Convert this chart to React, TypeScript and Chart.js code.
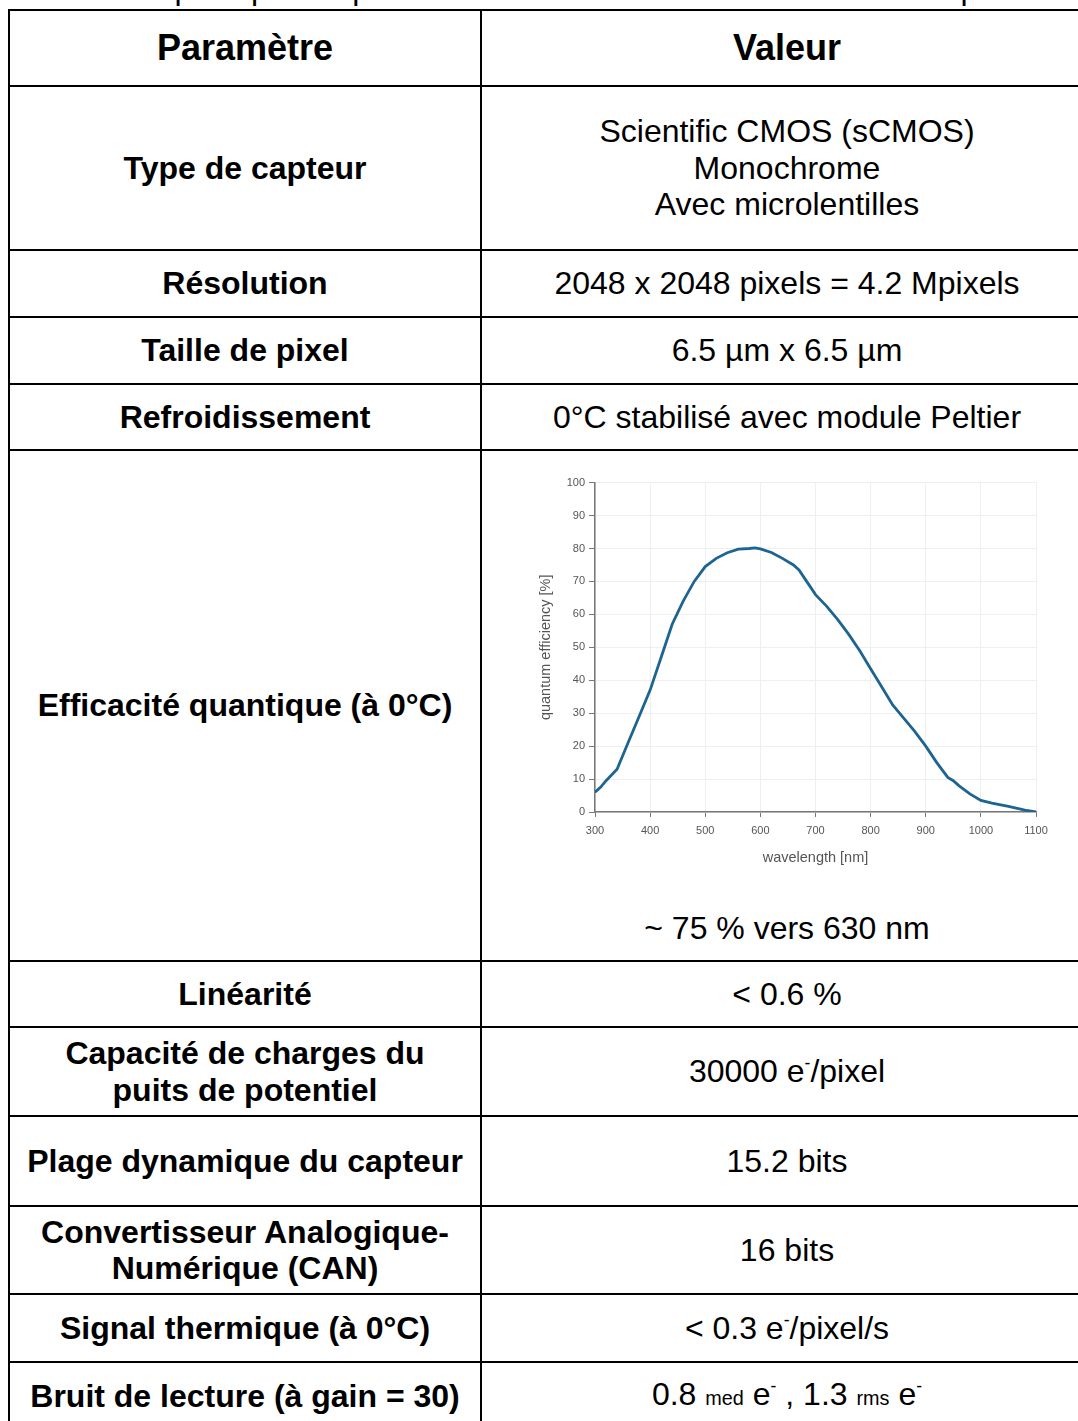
import React, { useEffect, useRef } from "react";
import { Chart, registerables } from "chart.js";

Chart.register(...registerables);

// ---- chart data ----
const wavelengths = [300, 310, 320, 340, 360, 380, 400, 420, 440, 460, 480, 500, 520, 540, 560, 580, 590, 600, 620, 640, 660, 670, 680, 700, 720, 740, 760, 780, 800, 820, 840, 860, 880, 900, 920, 940, 950, 960, 980, 1000, 1020, 1050, 1080, 1100];
const efficiency = [6, 7.5, 9.5, 13, 21, 29, 37, 47, 57, 64, 70, 74.5, 77, 78.7, 79.8, 80, 80.2, 79.9, 78.8, 77, 75, 73.5, 71, 66, 62.5, 58.5, 54, 49, 43.5, 38, 32.5, 28.5, 24.5, 20, 15, 10.5, 9.5, 8, 5.5, 3.5, 2.7, 1.7, 0.6, 0];
const xAxisTitle = "wavelength [nm]";
const yAxisTitle = "quantum efficiency [%]";

// ---- table content ----
const headerLeft = "Paramètre";
const headerRight = "Valeur";
const paramLabels: React.ReactNode[] = [
  "Type de capteur",
  "Résolution",
  "Taille de pixel",
  "Refroidissement",
  "Efficacité quantique (à 0°C)",
  "Linéarité",
  <>Capacité de charges du<br />puits de potentiel</>,
  "Plage dynamique du capteur",
  <>Convertisseur Analogique-<br />Numérique (CAN)</>,
  "Signal thermique (à 0°C)",
  "Bruit de lecture (à gain = 30)",
];
const supStyle: React.CSSProperties = { fontSize: "0.55em", verticalAlign: "0.75em", lineHeight: 0 };
const smallStyle: React.CSSProperties = { fontSize: "0.62em" };
const valueLabels: React.ReactNode[] = [
  <>Scientific CMOS (sCMOS)<br />Monochrome<br />Avec microlentilles</>,
  "2048 x 2048 pixels = 4.2 Mpixels",
  "6.5 µm x 6.5 µm",
  "0°C stabilisé avec module Peltier",
  null,
  "< 0.6 %",
  <>30000 e<span style={supStyle}>-</span>/pixel</>,
  "15.2 bits",
  "16 bits",
  <>&lt; 0.3 e<span style={supStyle}>-</span>/pixel/s</>,
  <>0.8 <span style={smallStyle}>med</span> e<span style={supStyle}>-</span> , 1.3 <span style={smallStyle}>rms</span> e<span style={supStyle}>-</span></>,
];
const qeNote = "~ 75 % vers 630 nm";
const captionText = "Tableau 1 : principales spécifications de la caméra sCMOS utilisée pour l'imagerie";

// ---- layout geometry ----
const rowLines = [10, 86, 250, 317, 384, 450, 961, 1027, 1116, 1206, 1294, 1362, 1430];
const colLines = [9, 481, 1093];
const FONT = "'Liberation Sans', Arial, Helvetica, sans-serif";

function QEChart() {
  const ref = useRef<HTMLCanvasElement>(null);
  useEffect(() => {
    if (!ref.current) return;
    const chart = new Chart(ref.current, {
      type: "line",
      data: {
        datasets: [
          {
            data: wavelengths.map((w, i) => ({ x: w, y: efficiency[i] })),
            borderColor: "#1d6590",
            borderWidth: 2.8,
            pointRadius: 0,
            tension: 0,
            fill: false,
          },
        ],
      },
      options: {
        animation: false,
        responsive: false,
        devicePixelRatio: 1,
        layout: { padding: { top: 10, right: 24, left: 0, bottom: 0 } },
        plugins: { legend: { display: false }, tooltip: { enabled: false } },
        scales: {
          x: {
            type: "linear",
            min: 300,
            max: 1100,
            ticks: {
              stepSize: 100,
              color: "#555",
              font: { family: FONT, size: 11 },
              padding: 7,
              maxRotation: 0,
              callback: (v: any) => String(v),
            },
            grid: { color: "#efefef", tickColor: "#777", tickLength: 5 },
            border: { color: "#777", width: 1.5 },
            title: { display: true, text: xAxisTitle, color: "#555", font: { family: FONT, size: 14.5 }, padding: { top: 0, bottom: 5 } },
            afterFit: (s: any) => { s.height = 60; },
          },
          y: {
            min: 0,
            max: 100,
            ticks: { stepSize: 10, color: "#555", font: { family: FONT, size: 11 }, padding: 4, callback: (v: any) => String(v) },
            grid: { color: "#efefef", tickColor: "#777", tickLength: 6 },
            border: { color: "#777", width: 1.5 },
            title: { display: true, text: yAxisTitle, color: "#555", font: { family: FONT, size: 14.5 }, padding: { top: 7, bottom: 0 } },
            afterFit: (s: any) => { s.width = 65; },
          },
        },
      },
    } as any);
    return () => chart.destroy();
  }, []);
  return (
    <canvas
      ref={ref}
      width={530}
      height={400}
      style={{ position: "absolute", left: 530, top: 472, width: 530, height: 400 }}
    />
  );
}

function Cell({ row, col, bold, size, children }: { row: number; col: number; bold: boolean; size: number; children: React.ReactNode }) {
  const top = rowLines[row];
  const bottom = rowLines[row + 1];
  const left = colLines[col];
  const right = colLines[col + 1];
  return (
    <div
      style={{
        position: "absolute",
        left,
        top,
        width: right - left,
        height: bottom - top,
        display: "flex",
        alignItems: "center",
        justifyContent: "center",
        textAlign: "center",
        fontWeight: bold ? "bold" : "normal",
        fontSize: size,
        lineHeight: "36.5px",
      }}
    >
      <div>{children}</div>
    </div>
  );
}

export default function App() {
  const lines: React.ReactNode[] = [];
  rowLines.forEach((y, i) => {
    lines.push(
      <div key={"h" + i} style={{ position: "absolute", left: colLines[0] - 1, top: y - 1, width: colLines[2] - colLines[0] + 2, height: 2, background: "#000" }} />
    );
  });
  colLines.forEach((x, i) => {
    lines.push(
      <div key={"v" + i} style={{ position: "absolute", left: x - 1, top: rowLines[0] - 1, width: 2, height: rowLines[rowLines.length - 1] - rowLines[0] + 2, background: "#000" }} />
    );
  });

  return (
    <div
      style={{
        position: "absolute",
        left: 0,
        top: 0,
        width: 1078,
        height: 1421,
        overflow: "hidden",
        background: "#fff",
        fontFamily: FONT,
        color: "#000",
      }}
    >
      <div
        style={{
          position: "absolute",
          left: colLines[0],
          width: colLines[2] - colLines[0],
          top: -28,
          fontSize: 32,
          lineHeight: "32px",
          textAlign: "center",
          whiteSpace: "nowrap",
        }}
      >
        {captionText}
      </div>
      <Cell row={0} col={0} bold size={36}>{headerLeft}</Cell>
      <Cell row={0} col={1} bold size={36}>{headerRight}</Cell>
      {paramLabels.map((p, i) => (
        <Cell key={"p" + i} row={i + 1} col={0} bold size={32}>{p}</Cell>
      ))}
      {valueLabels.map((v, i) =>
        v === null ? null : (
          <Cell key={"v" + i} row={i + 1} col={1} bold={false} size={32}>{v}</Cell>
        )
      )}
      <QEChart />
      <div
        style={{
          position: "absolute",
          left: colLines[1],
          width: colLines[2] - colLines[1],
          top: 910,
          fontSize: 32,
          lineHeight: "36px",
          textAlign: "center",
        }}
      >
        {qeNote}
      </div>
      {lines}
    </div>
  );
}
